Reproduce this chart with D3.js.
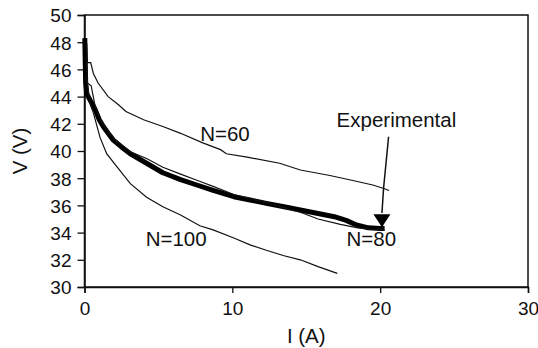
<!DOCTYPE html>
<html>
<head>
<meta charset="utf-8">
<script src="https://cdn.jsdelivr.net/npm/d3@7"></script>
<style>
  body { margin: 0; background: #fff; }
  svg text { font-family: "Liberation Sans", Arial, Helvetica, sans-serif; fill: #111; }
</style>
</head>
<body>
<svg id="chart" width="538" height="348"></svg>
<script>
// V-I curves: experimental data vs model with N = 60, 80, 100

const xTicks = [0, 10, 20, 30];
const yTicks = [30, 32, 34, 36, 38, 40, 42, 44, 46, 48, 50];

// [I (A), V (V)]
const experimental = [
  [0.02, 48.3], [0.05, 46.5], [0.08, 45.0], [0.15, 44.2], [0.7, 43.1],
  [1.0, 42.3], [1.27, 41.8], [1.6, 41.3], [1.95, 40.8], [2.5, 40.3],
  [3.1, 39.8], [4.2, 39.1], [5.3, 38.4], [6.5, 37.9], [7.6, 37.5],
  [8.7, 37.1], [10.1, 36.64], [11.2, 36.4], [12.3, 36.15], [13.5, 35.9],
  [14.6, 35.66], [15.8, 35.4], [16.9, 35.17], [17.7, 34.9], [18.4, 34.56],
  [19.2, 34.35], [20.0, 34.3], [20.3, 34.3]
];

const n60 = [
  [0.15, 47.9], [0.2, 46.5], [0.42, 46.5], [0.6, 45.7], [0.92, 45.0],
  [1.6, 44.0], [2.3, 43.4], [2.8, 42.9], [4.0, 42.3], [5.3, 41.8],
  [6.5, 41.3], [8.0, 40.6], [9.2, 40.1], [9.6, 39.8], [11.0, 39.55],
  [13.2, 39.1], [14.6, 38.6], [16.6, 38.2], [18.0, 37.87], [19.5, 37.5],
  [20.2, 37.26], [20.6, 37.1]
];

const n80 = [
  [0.1, 47.0], [0.2, 45.0], [0.45, 44.8], [0.7, 43.4], [1.0, 42.4],
  [1.3, 41.9], [2.0, 40.9], [3.1, 39.95], [4.2, 39.45], [5.3, 38.8],
  [6.5, 38.3], [7.6, 37.85], [8.7, 37.4], [10.1, 36.8], [12.3, 36.2],
  [14.6, 35.5], [15.8, 35.0], [17.3, 34.6], [18.5, 34.35], [19.5, 34.25],
  [20.3, 34.2]
];

const n100 = [
  [0.05, 45.5], [0.2, 44.9], [0.4, 43.4], [0.6, 42.8], [1.05, 41.0],
  [1.5, 39.8], [2.0, 39.1], [3.1, 37.6], [4.2, 36.6], [5.3, 35.9],
  [6.5, 35.3], [7.8, 34.5], [8.7, 34.2], [10.1, 33.6], [11.2, 33.1],
  [12.3, 32.7], [13.5, 32.3], [14.6, 32.0], [15.8, 31.5], [17.1, 31.0]
];

// arrow from the "Experimental" label down to the end of the data
const arrowPath = [[20.57, 41.05], [20.23, 37.26], [20.12, 35.44]];
const arrowTip = [20.12, 34.4];

const labels = [
  { text: "N=60", x: 9.5, y: 40.7 },
  { text: "N=80", x: 19.4, y: 33.0 },
  { text: "N=100", x: 6.2, y: 33.0 },
  { text: "Experimental", x: 21.1, y: 41.8 }
];

const svg = d3.select("#chart");
const margin = { top: 15, left: 84.5 };
const width = 443.5;
const height = 272;

const g = svg.append("g").attr("transform", `translate(${margin.left},${margin.top})`);

const x = d3.scaleLinear().domain([0, 30]).range([0, width]);
const y = d3.scaleLinear().domain([30, 50]).range([height, 0]);

// frame
g.append("rect")
  .attr("width", width)
  .attr("height", height)
  .attr("fill", "none")
  .attr("stroke", "#111")
  .attr("stroke-width", 1.5);

const xAxis = g.append("g")
  .attr("transform", `translate(0,${height})`)
  .call(d3.axisBottom(x).tickValues(xTicks).tickSize(6).tickPadding(9));
const yAxis = g.append("g")
  .call(d3.axisLeft(y).tickValues(yTicks).tickSize(7).tickPadding(6));

[xAxis, yAxis].forEach((a) => {
  a.select(".domain").attr("stroke", "#111").attr("stroke-width", 1.5);
  a.selectAll(".tick line").attr("stroke", "#111").attr("stroke-width", 1.3);
  a.selectAll(".tick text")
    .attr("font-size", 19)
    .attr("font-family", "Liberation Sans, Arial, sans-serif")
    .attr("fill", "#111");
});
yAxis.selectAll(".tick text").attr("dy", "0.36em");

const line = d3.line().x((d) => x(d[0])).y((d) => y(d[1]));

g.append("path")
  .datum(experimental)
  .attr("d", line)
  .attr("fill", "none")
  .attr("stroke", "#000")
  .attr("stroke-width", 5)
  .attr("stroke-linejoin", "round");

[n60, n80, n100].forEach((s) => {
  g.append("path")
    .datum(s)
    .attr("d", line)
    .attr("fill", "none")
    .attr("stroke", "#111")
    .attr("stroke-width", 1.2);
});

// arrow
g.append("path")
  .datum(arrowPath)
  .attr("d", line)
  .attr("fill", "none")
  .attr("stroke", "#111")
  .attr("stroke-width", 1.5);

const tx = x(arrowTip[0]);
const ty = y(arrowTip[1]);
g.append("path")
  .attr("d", `M${tx},${ty} L${tx - 8.5},${ty - 13} L${tx + 8.5},${ty - 13} Z`)
  .attr("fill", "#000");

g.selectAll(".label")
  .data(labels)
  .enter()
  .append("text")
  .attr("class", "label")
  .attr("x", (d) => x(d.x))
  .attr("y", (d) => y(d.y))
  .attr("text-anchor", "middle")
  .attr("font-size", 20.5)
  .text((d) => d.text);

// axis titles
svg.append("text")
  .attr("x", margin.left + width / 2)
  .attr("y", 343)
  .attr("text-anchor", "middle")
  .attr("font-size", 20.5)
  .text("I (A)");

svg.append("text")
  .attr("transform", `translate(27,${margin.top + height / 2}) rotate(-90)`)
  .attr("text-anchor", "middle")
  .attr("font-size", 20.5)
  .text("V (V)");
</script>
</body>
</html>
